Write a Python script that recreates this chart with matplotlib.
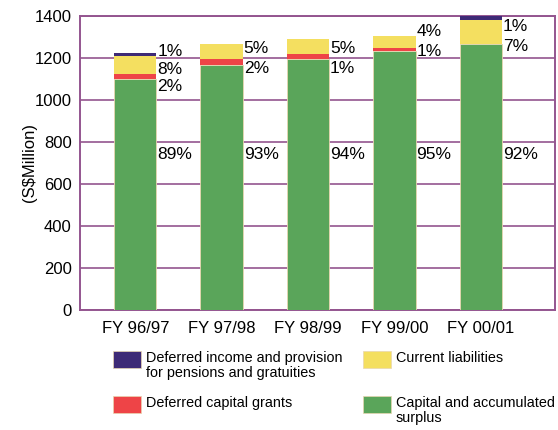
import matplotlib
matplotlib.use("Agg")
import matplotlib.pyplot as plt
from matplotlib.patches import Rectangle

plt.rcParams['font.family'] = ['Liberation Sans', 'DejaVu Sans']

categories = ["FY 96/97", "FY 97/98", "FY 98/99", "FY 99/00", "FY 00/01"]
capital = [1099, 1165, 1195, 1235, 1267]
deferred_grants = [25, 30, 25, 14, 0]
current_liab = [87, 72, 70, 57, 114]
deferred_income = [12, 0, 0, 0, 19]

pct_capital = ["89%", "93%", "94%", "95%", "92%"]
# labels placed beside the top part of each bar (top to bottom)
pct_top = [["1%", "8%", "2%"], ["5%", "2%"], ["5%", "1%"], ["4%", "1%"], ["1%", "7%"]]

yticks = [0, 200, 400, 600, 800, 1000, 1200, 1400]

# layout: vertical placement of the upper percentage labels (data units)
label_y = [[1229, 1143, 1062], [1243, 1152], [1243, 1150], [1324, 1229], [1352, 1257]]

c_green = "#5aa55a"
c_red = "#ee4447"
c_yellow = "#f4df60"
c_purple = "#3e2a76"
c_axis = "#94558f"
c_edge = "#e8d6b0"

fig = plt.figure(figsize=(5.58, 4.30), dpi=100)
ax = fig.add_axes([80/558, 1-310/430, 475/558, 294/430])

x = list(range(len(categories)))
w = 0.49
b1 = capital
b2 = [a + b for a, b in zip(b1, deferred_grants)]
b3 = [a + b for a, b in zip(b2, current_liab)]
ax.bar(x, capital, w, color=c_green, edgecolor=c_edge, linewidth=0.6, zorder=3)
ax.bar(x, deferred_grants, w, bottom=b1, color=c_red, linewidth=0.0, zorder=3)
ax.bar(x, current_liab, w, bottom=b2, color=c_yellow, linewidth=0.0, zorder=3)
ax.bar(x, deferred_income, w, bottom=b3, color=c_purple, linewidth=0.0, zorder=3)

ax.set_xlim(-0.64, 4.86)
ax.set_ylim(0, 1400)
ax.set_yticks(yticks)
ax.set_yticklabels([str(v) for v in yticks], fontsize=12)
ax.set_xticks(x)
ax.set_xticklabels(categories, fontsize=12)
ax.tick_params(axis='both', length=0, pad=6)
ax.tick_params(axis='x', pad=8)
ax.yaxis.grid(True, color=c_axis, linewidth=1.2, zorder=1)
ax.set_axisbelow(True)
for s in ax.spines.values():
    s.set_color(c_axis)
    s.set_linewidth(1.4)
ax.set_ylabel("(S$Million)", fontsize=12, labelpad=-2)

for i in x:
    xl = i + w/2 + 0.01
    ax.text(xl, 740, pct_capital[i], fontsize=12.5, va='center', ha='left', zorder=4)
    for lab, yy in zip(pct_top[i], label_y[i]):
        ax.text(xl, yy, lab, fontsize=12.5, va='center', ha='left', zorder=4)

# legend
def leg(xp, yp, color, text):
    fig.add_artist(Rectangle((xp/558, 1-(yp+17)/430), 28/558, 17/430,
                             transform=fig.transFigure, facecolor=color,
                             edgecolor=c_edge, linewidth=0.5))
    fig.text((xp+33)/558, 1-(yp)/430, text, fontsize=10.4, va='top', ha='left',
             linespacing=1.1)

leg(113, 351, c_purple, "Deferred income and provision\nfor pensions and gratuities")
leg(363, 351, c_yellow, "Current liabilities")
leg(113, 396, c_red, "Deferred capital grants")
leg(363, 396, c_green, "Capital and accumulated\nsurplus")

fig.savefig("out.png", dpi=100)
